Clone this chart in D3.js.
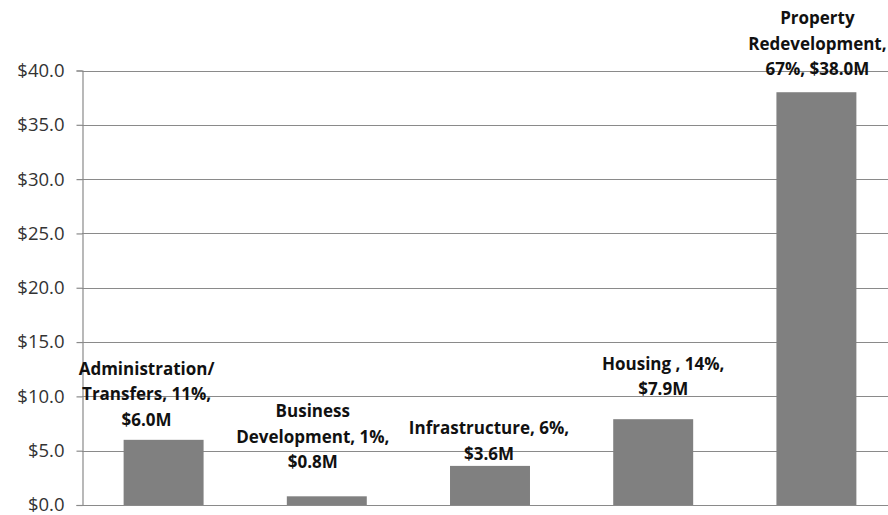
<!DOCTYPE html>
<html>
<head>
<meta charset="utf-8">
<script src="https://cdn.jsdelivr.net/npm/d3@7"></script>
<style>
  html, body { margin: 0; padding: 0; background: #ffffff; }
  svg { display: block; }
</style>
</head>
<body>
<svg id="chart" width="888" height="515"></svg>
<script>
// ==============================
// DATA
// ==============================

const categories = ["Administration/Transfers", "Business Development", "Infrastructure", "Housing", "Property Redevelopment"];
const amounts = [6.0, 0.8, 3.6, 7.9, 38.0];   // $M
const shares = [11, 1, 6, 14, 67];            // %
const labelLines = [
  ["Administration/", "Transfers, 11%,", "$6.0M"],
  ["Business", "Development, 1%,", "$0.8M"],
  ["Infrastructure, 6%,", "$3.6M"],
  ["Housing , 14%,", "$7.9M"],
  ["Property", "Redevelopment,", "67%, $38.0M"]
];
const yTicks = [0, 5, 10, 15, 20, 25, 30, 35, 40];

// label nudges as placed in the original (dx, gap above bar)
const labelNudge = [[-17, 14], [-14, 28], [-1, 6], [10, 24], [1, 17]];

// ==============================
// LAYOUT
// ==============================

const svg = d3.select("#chart");
const plotLeft = 82, plotRight = 898, plotTop = 70.5, plotBottom = 505;

const x = d3.scaleBand()
  .domain(categories)
  .range([plotLeft, plotRight])
  .paddingInner(0.51)
  .paddingOuter(0.255);

const y = d3.scaleLinear()
  .domain([0, 40])
  .range([plotBottom, plotTop]);

// Gridlines
svg.append("g")
  .selectAll("line")
  .data(yTicks)
  .enter()
  .append("line")
  .attr("x1", plotLeft)
  .attr("x2", 888)
  .attr("y1", d => Math.round(y(d)) + 0.5)
  .attr("y2", d => Math.round(y(d)) + 0.5)
  .attr("stroke", "#8a8a8a")
  .attr("stroke-width", 1.2);

// Y axis
const yAxis = d3.axisLeft(y)
  .tickValues(yTicks)
  .tickSize(6)
  .tickPadding(12)
  .tickFormat(d => "$" + d3.format(".1f")(d));

const yAxisG = svg.append("g")
  .attr("transform", `translate(${plotLeft + 0.5},0)`)
  .call(yAxis);

yAxisG.select(".domain").attr("stroke", "#8a8a8a").attr("stroke-width", 1.2);
yAxisG.selectAll(".tick line").attr("stroke", "#8a8a8a").attr("stroke-width", 1.2);
yAxisG.selectAll(".tick text")
  .attr("fill", "#333333")
  .attr("font-family", "'Open Sans', sans-serif")
  .attr("font-size", "18.5px");

// Bars
svg.append("g")
  .selectAll("rect")
  .data(amounts)
  .enter()
  .append("rect")
  .attr("x", (d, i) => x(categories[i]))
  .attr("y", d => y(d))
  .attr("width", x.bandwidth())
  .attr("height", d => plotBottom - y(d))
  .attr("fill", "#808080");

// Data labels
const labels = svg.append("g")
  .selectAll("text")
  .data(labelLines)
  .enter()
  .append("text")
  .attr("text-anchor", "middle")
  .attr("font-family", "'Open Sans', sans-serif")
  .attr("font-weight", "700")
  .attr("font-size", "17px")
  .attr("fill", "#111111");

labels.each(function(lines, i) {
  const cx = x(categories[i]) + x.bandwidth() / 2 + labelNudge[i][0];
  const lastBase = y(amounts[i]) - labelNudge[i][1];
  const lineH = 25.5;
  lines.forEach((t, j) => {
    d3.select(this)
      .append("tspan")
      .attr("x", cx)
      .attr("y", lastBase - (lines.length - 1 - j) * lineH)
      .text(t);
  });
});
</script>
</body>
</html>
